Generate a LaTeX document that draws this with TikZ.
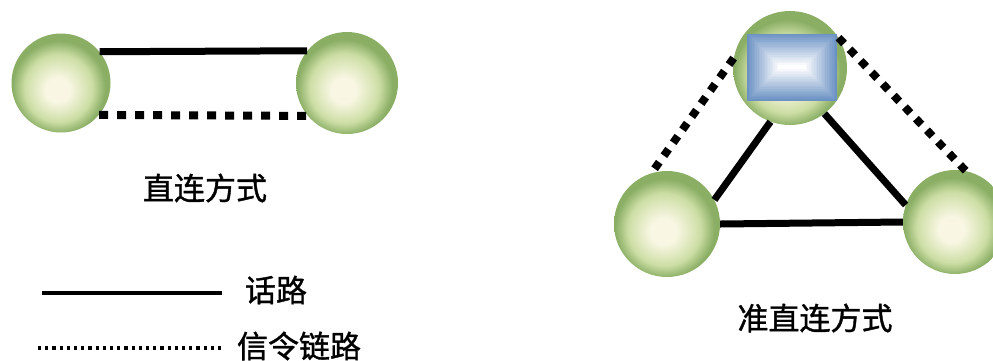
\documentclass[tikz,border=0pt]{standalone}
\usepackage{fontspec}
\newfontfamily\cjk{Noto Sans CJK SC}[FakeBold=1.2]
\definecolor{ballin}{RGB}{249,247,228}
\definecolor{ballmid}{RGB}{205,222,165}
\definecolor{ballout}{RGB}{137,174,100}
\definecolor{boxout}{RGB}{108,146,196}
\pgfdeclareradialshading{ballshade}{\pgfpoint{-2bp}{-4bp}}{color(0bp)=(ballin); color(6bp)=(ballin); color(17bp)=(ballmid); color(23.5bp)=(ballout); color(50bp)=(ballout)}
\begin{document}
\begin{tikzpicture}[x=1pt,y=-1pt,
  ball/.style={circle, draw=none, shade, shading=ballshade, inner sep=0pt, minimum size=#1},
  voice/.style={line width=7pt},
  signal/.style={line width=8pt, dash pattern=on 9pt off 9pt},
  lbl/.style={font=\cjk\fontsize{31}{31}\selectfont, inner sep=0pt, anchor=center},
  legvoice/.style={line width=4.5pt},
  legsignal/.style={line width=3.2pt, dash pattern=on 3.2pt off 4pt}]
\useasboundingbox (0,0) rectangle (993,360);
% direct mode
\node[ball=99pt] (A) at (61,83) {};
\node[ball=102pt] (B) at (347,83) {};
\draw[voice] (A.39) -- (B.141);
\draw[signal] (A.-40) -- (B.-140);
\node[lbl] (t1) at (205,188) {直连方式};
% quasi-direct mode
\node[ball=114pt] (T) at (790,68) {};
\node[ball=106pt] (L) at (667,224) {};
\node[ball=104pt] (R) at (955,222) {};
\begin{scope}[shift={(792,67)}]
  \foreach \i in {0,...,20} {
    \pgfmathsetmacro{\p}{max(0,100-5.2*\i)}
    \pgfmathsetmacro{\d}{1.65*\i}
    \fill[boxout!\p!white] (-45+\d,-33.5+\d) rectangle (45-\d,33.5-\d);
  }
\end{scope}
\draw[voice] (T.-110) -- (L.27);
\draw[voice] (T.-53) -- (R.161);
\draw[voice] (L.0) -- (R.180);
\draw[signal, dash pattern=on 8pt off 8pt] (T.170) -- (L.107);
\draw[signal, dash pattern=on 8pt off 8pt] (T.32) -- (R.78);
\node[lbl] (t2) at (815,318) {准直连方式};
% legend
\coordinate (v1) at (42,293);
\coordinate (v2) at (222,293);
\draw[legvoice] (v1) -- (v2);
\node[lbl] (t3) at (276,290) {话路};
\coordinate (s1) at (38,348);
\coordinate (s2) at (224,348);
\draw[legsignal] (s1) -- (s2);
\node[lbl] (t4) at (299,346) {信令链路};
\end{tikzpicture}
\end{document}
